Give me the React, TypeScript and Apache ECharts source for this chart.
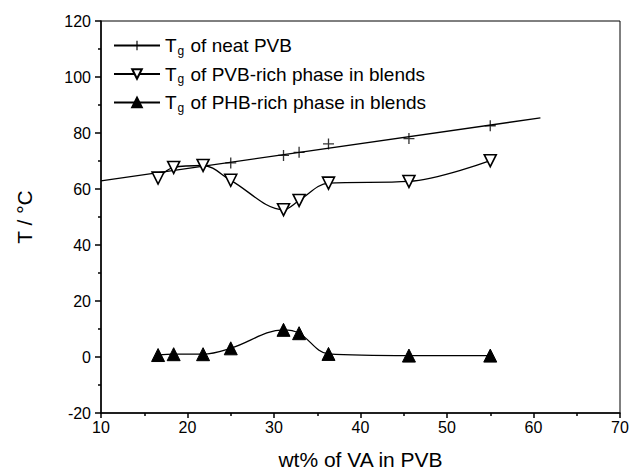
import React, { useEffect, useRef } from "react";
import * as echarts from "echarts";

// wt% of VA in PVB
const vaContent = [16.6, 18.4, 21.8, 25.0, 31.1, 32.9, 36.3, 45.6, 55.0];
// Tg of neat PVB (measured points)
const neatX = [25.0, 31.1, 32.9, 36.3, 45.6, 55.0];
const neatTg = [69.3, 72.0, 73.1, 76.1, 78.0, 82.6];
// linear fit through neat PVB (end points)
const neatFitX = [10, 60.8];
const neatFitY = [62.9, 85.4];
// Tg of PVB-rich phase in blends
const pvbRichTg = [63.9, 67.7, 68.4, 63.1, 52.6, 55.9, 62.1, 62.7, 70.1];
// Tg of PHB-rich phase in blends
const phbRichTg = [0.7, 1.0, 1.0, 3.1, 9.7, 8.5, 1.1, 0.5, 0.5];

const seriesNames = [
  "Tg of neat PVB",
  "Tg of PVB-rich phase in blends",
  "Tg of PHB-rich phase in blends",
];
const legendRest = [" of neat PVB", " of PVB-rich phase in blends", " of PHB-rich phase in blends"];

const xTicks = [10, 20, 30, 40, 50, 60, 70];
const yTicks = [-20, 0, 20, 40, 60, 80, 100, 120];

const PLUS =
  "path://M4.4,0h1.2v4.4h4.4v1.2h-4.4v4.4h-1.2v-4.4h-4.4v-1.2h4.4z";

export default function App() {
  const ref = useRef<HTMLDivElement>(null);
  useEffect(() => {
    if (!ref.current) return;
    const chart = echarts.init(ref.current, undefined, { renderer: "svg" });
    const font = "'Liberation Sans', Arial, sans-serif";
    const zip = (xs: number[], ys: number[]) => xs.map((x, i) => [x, ys[i]]);
    chart.setOption({
      animation: false,
      backgroundColor: "#fff",
      textStyle: { fontFamily: font, color: "#000" },
      grid: {
        left: 101,
        right: 13,
        top: 21,
        bottom: 63,
        show: true,
        borderColor: "#000",
        borderWidth: 1,
        backgroundColor: "transparent",
        outerBoundsMode: "none",
      },
      legend: {
        left: 108,
        top: 31,
        orient: "vertical",
        itemWidth: 46,
        itemHeight: 12,
        itemGap: 8,
        data: seriesNames,
        formatter: (name: string) => {
          const i = seriesNames.indexOf(name);
          return "{n|T}{s|g}{n|" + legendRest[i] + "}";
        },
        textStyle: {
          fontFamily: font,
          color: "#000",
          rich: {
            n: { fontSize: 19, fontFamily: font, color: "#000" },
            s: { fontSize: 12, fontFamily: font, color: "#000", padding: [10, 1, 0, 1] },
          },
        },
      },
      xAxis: {
        type: "value",
        min: xTicks[0],
        max: xTicks[xTicks.length - 1],
        interval: 10,
        name: "wt% of VA in PVB",
        nameLocation: "middle",
        nameGap: 36,
        nameTextStyle: { fontSize: 21, fontFamily: font, color: "#000" },
        axisLine: { show: true, onZero: false, lineStyle: { color: "#000", width: 1.5 } },
        axisTick: { show: true, length: 5, lineStyle: { color: "#000", width: 1.5 } },
        minorTick: { show: true, splitNumber: 2, length: 3, lineStyle: { color: "#000", width: 1.5 } },
        axisLabel: { fontSize: 16, fontFamily: font, color: "#000", margin: 6, showMaxLabel: true },
        splitLine: { show: false },
      },
      yAxis: {
        type: "value",
        min: yTicks[0],
        max: yTicks[yTicks.length - 1],
        interval: 20,
        name: "T / °C",
        nameLocation: "middle",
        nameGap: 66,
        nameTextStyle: { fontSize: 21, fontFamily: font, color: "#000" },
        axisLine: { show: true, onZero: false, lineStyle: { color: "#000", width: 1.5 } },
        axisTick: { show: true, length: 6, lineStyle: { color: "#000", width: 1.5 } },
        minorTick: { show: true, splitNumber: 2, length: 3, lineStyle: { color: "#000", width: 1.5 } },
        axisLabel: { fontSize: 16, fontFamily: font, color: "#000", margin: 10 },
        splitLine: { show: false },
      },
      series: [
        {
          name: seriesNames[0],
          type: "line",
          data: zip(neatFitX, neatFitY),
          showSymbol: false,
          symbol: PLUS,
          symbolSize: 11,
          itemStyle: { color: "#000" },
          lineStyle: { color: "#000", width: 1.3 },
          z: 2,
        },
        {
          name: "neat points",
          type: "scatter",
          data: zip(neatX, neatTg),
          symbol: PLUS,
          symbolSize: 11,
          itemStyle: { color: "#000" },
          z: 3,
        },
        {
          name: seriesNames[1],
          type: "line",
          data: zip(vaContent, pvbRichTg),
          smooth: 0.35,
          symbol: "triangle",
          symbolRotate: 180,
          symbolSize: 12,
          showAllSymbol: true,
          itemStyle: { color: "#fff", borderColor: "#000", borderWidth: 1.6 },
          lineStyle: { color: "#000", width: 1.3 },
          z: 4,
        },
        {
          name: seriesNames[2],
          type: "line",
          data: zip(vaContent, phbRichTg),
          smooth: 0.35,
          symbol: "triangle",
          symbolSize: 13,
          showAllSymbol: true,
          itemStyle: { color: "#000", borderColor: "#000", borderWidth: 1 },
          lineStyle: { color: "#000", width: 1.3 },
          z: 4,
        },
      ],
    });
    return () => chart.dispose();
  }, []);
  return (
    <div
      ref={ref}
      style={{ position: "fixed", left: 0, top: 0, width: 633, height: 476 }}
    />
  );
}
